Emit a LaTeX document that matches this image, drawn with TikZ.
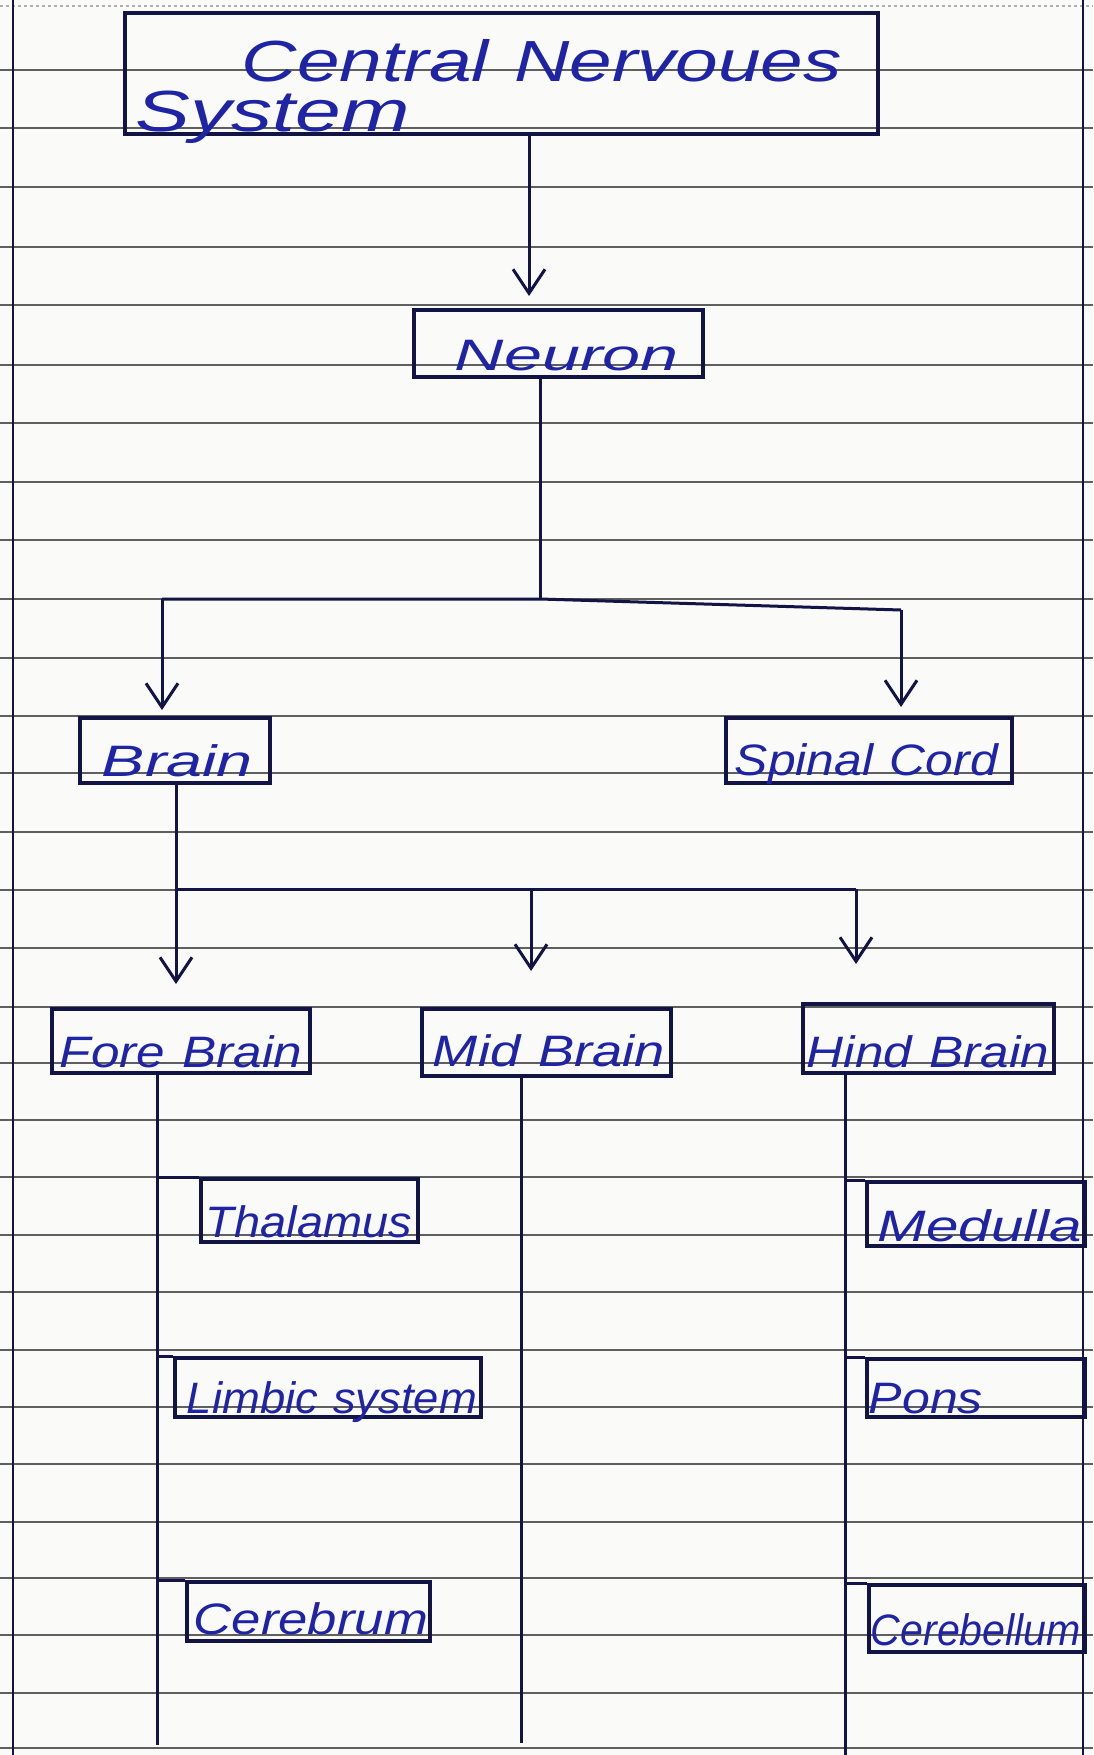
\documentclass[tikz,border=0pt]{standalone}
\usepackage{fontspec}
\setmainfont{Liberation Sans}
\usetikzlibrary{arrows.meta}
\definecolor{ink}{RGB}{30,36,165}
\definecolor{pen}{RGB}{18,20,70}
\definecolor{rulecol}{RGB}{95,95,95}
\definecolor{paper}{RGB}{250,250,248}
\newcommand{\hw}[2]{\resizebox{#1}{\height}{#2}}
\begin{document}
\begin{tikzpicture}[x=1pt,y=-1pt,
  box/.style={draw=pen, line width=3.8pt, inner sep=0pt, anchor=north west, align=left, text=ink, font=\fontsize{44}{50}\selectfont\itshape},
  conn/.style={draw=pen, line width=3pt},
  arr/.style={conn, -{Straight Barb[length=24pt,width=32pt]}},
  ruled/.style={draw=rulecol, line width=2pt},
  margin/.style={draw=pen, line width=2.8pt}]
\fill[paper] (0,0) rectangle (1093,1755);
\useasboundingbox (0,0) rectangle (1093,1755);
% ruled paper
\draw[draw=rulecol!50, line width=1.2pt, dashed] (0,6) -- (1093,6);
\foreach \yy in {70,128,187,247,305,365,423,482,540,599,658,716,773,832,890,948,1007,1063,1120,1177,1235,1292,1350,1407,1464,1522,1578,1635,1693,1748}
  \draw[ruled] (0,\yy) -- (1093,\yy);
\draw[margin] (13,0) -- (13,1755);
\draw[margin] (1083,0) -- (1083,1755);

% nodes
\node[box, text width=753pt, text height=69pt, text depth=52pt, font=\fontsize{58}{60}\selectfont\itshape] (cns) at (123,11)
  {\makebox[0pt][l]{\hspace*{11pt}\raisebox{-50pt}{\hw{274pt}{System}}}\hspace*{117pt}\hw{600pt}{Central Nervoues}};
\node[box, text width=289pt, text height=61pt, text depth=6pt] (neuron) at (412,308) {\hspace*{41pt}\hw{224pt}{Neuron}};
\node[box, text width=190pt, text height=59pt, text depth=6pt] (brain) at (78,716) {\hspace*{22pt}\hw{151pt}{Brain}};
\node[box, text width=286pt, text height=58pt, text depth=7pt] (spinal) at (724,716) {\hspace*{9pt}\hw{263pt}{Spinal Cord}};
\node[box, text width=258pt, text height=59pt, text depth=5pt] (fore) at (50,1007) {\hspace*{8pt}\hw{242pt}{Fore Brain}};
\node[box, text width=249pt, text height=58pt, text depth=9pt] (mid) at (420,1007) {\hspace*{11pt}\hw{232pt}{Mid Brain}};
\node[box, text width=251pt, text height=64pt, text depth=5pt] (hind) at (801,1002) {\hspace*{4pt}\hw{242pt}{Hind Brain}};
\node[box, text width=217pt, text height=59pt, text depth=4pt] (thal) at (199,1177) {\hspace*{5pt}\hw{206pt}{Thalamus}};
\node[box, text width=306pt, text height=56pt, text depth=3pt] (limbic) at (173,1356) {\hspace*{12pt}\hw{290pt}{Limbic system}};
\node[box, text width=243pt, text height=53pt, text depth=6pt] (cereb) at (185,1580) {\hspace*{7pt}\hw{234pt}{Cerebrum}};
\node[box, text width=218pt, text height=60pt, text depth=4pt] (medulla) at (865,1180) {\hspace*{11pt}\hw{204pt}{Medulla}};
\node[box, text width=218pt, text height=55pt, text depth=3pt] (pons) at (865,1357) {\hspace*{2pt}\hw{114pt}{Pons}};
\node[box, text width=216pt, text height=61pt, text depth=6pt] (cbl) at (867,1583) {\hspace*{2pt}\hw{210pt}{Cerebellum}};

% connectors
\coordinate (c1) at (529,200);
\draw[arr, shorten >=12pt] (cns.south -| c1) -- (c1 |- neuron.north);

\coordinate (j1) at (540,599);
\coordinate (j1l) at (162,599);
\coordinate (j1r) at (901,610);
\draw[conn] (neuron.south -| j1) -- (j1);
\draw[conn] (j1l) -- (j1) -- (j1r);
\draw[arr, shorten >=6pt] (j1l) -- (j1l |- brain.north);
\draw[arr, shorten >=9pt] (j1r) -- (j1r |- spinal.north);

\coordinate (j2l) at (176,889);
\coordinate (j2m) at (531,889);
\coordinate (j2r) at (856,889);
\draw[conn] (brain.south -| j2l) -- (j2l);
\draw[conn] (j2l) -- (j2r);
\draw[arr, shorten >=23pt] (j2l) -- (j2l |- fore.north);
\draw[arr, shorten >=36pt] (j2m) -- (j2m |- mid.north);
\draw[arr, shorten >=38pt] (j2r) -- (j2r |- hind.north);

\coordinate (fv) at (157,1745);
\draw[conn] (fore.south -| fv) -- (fv);
\draw[conn] (fv |- thal.north) -- (thal.north west);
\draw[conn] (fv |- limbic.north) -- (limbic.north west);
\draw[conn] (fv |- cereb.north) -- (cereb.north west);

\coordinate (mv) at (521,1743);
\draw[conn] (mid.south -| mv) -- (mv);

\coordinate (hv) at (845,1755);
\draw[conn] (hind.south -| hv) -- (hv);
\draw[conn] (hv |- medulla.north) -- (medulla.north west);
\draw[conn] (hv |- pons.north) -- (pons.north west);
\draw[conn] (hv |- cbl.north) -- (cbl.north west);
\end{tikzpicture}
\end{document}
